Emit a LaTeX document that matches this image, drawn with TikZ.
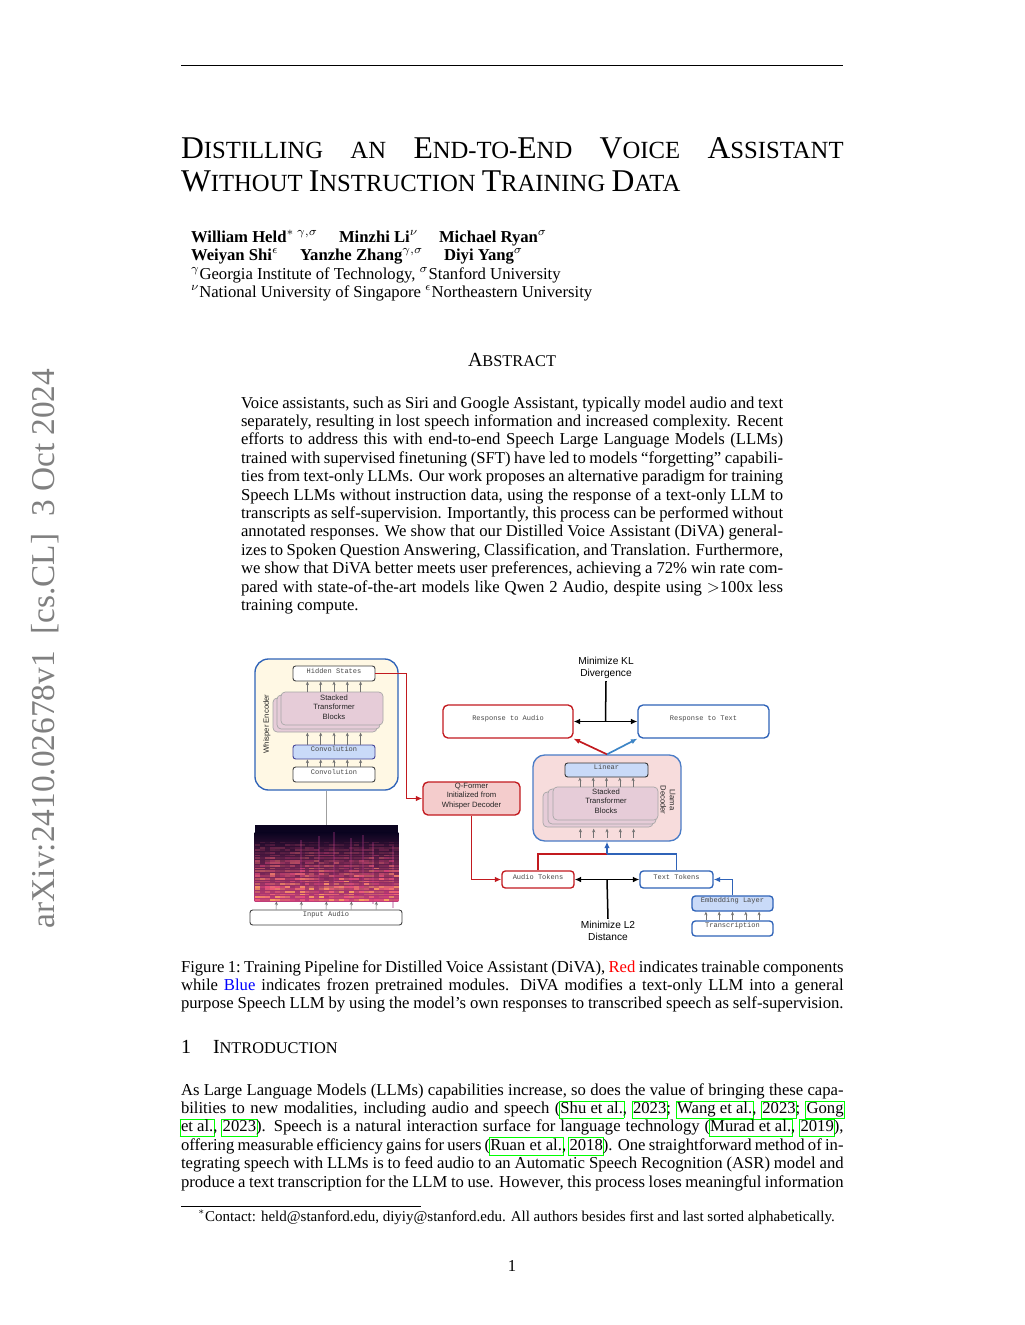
\documentclass[tikz,border=0pt]{standalone}
\usepackage{fontspec}
\setmainfont{Liberation Serif}
\newfontfamily\sansf{Liberation Sans}
\newfontfamily\monof{Liberation Mono}
\usetikzlibrary{arrows.meta,calc,fit}

\definecolor{citeg}{RGB}{0,255,0}
\definecolor{dred}{HTML}{C21A1F}
\definecolor{dblue}{HTML}{2F63B8}
\definecolor{llblue}{HTML}{4A7CC7}
\definecolor{lblue}{HTML}{C9DAF8}
\definecolor{arrblue}{HTML}{3D85C6}
\definecolor{encfill}{HTML}{FFF8E4}
\definecolor{qffill}{HTML}{F4CCCC}
\definecolor{llfill}{HTML}{F7DCDC}
\definecolor{stkfill}{HTML}{E6CCD8}
\definecolor{spTop}{HTML}{0B0420}
\definecolor{spMid}{HTML}{4A1684}
\definecolor{spBot}{HTML}{C03C7A}
\definecolor{spOr}{HTML}{FBA85E}
\definecolor{spPk}{HTML}{E4477E}
\definecolor{sidegray}{gray}{0.5}

\newsavebox\cbx
\newcommand\cb[1]{\sbox\cbx{#1}\leavevmode\rlap{\kern-0.9pt\raisebox{-2.6pt}{\color{citeg}\setlength\fboxsep{0pt}\setlength\fboxrule{0.55pt}\fbox{\vrule width0pt height 9.8pt\kern\dimexpr\wd\cbx+0.7pt\relax}}}\usebox\cbx}
\newcommand\jl[1]{\hbox to \hsize{#1}}
\newcommand\TB{\fontsize{19}{20}\selectfont}
\newcommand\TS{\fontsize{14.8}{20}\selectfont}

\begin{document}
\begin{tikzpicture}[x=0.597656bp,y=-0.597656bp,
  txt/.style={anchor=base west, inner sep=0pt, outer sep=0pt},
  body/.style={txt, font=\fontsize{10}{11}\selectfont},
  mono/.style={font=\monof\fontsize{4.2}{5}\selectfont, text=black!72},
  sans/.style={font=\sansf\fontsize{4.6}{5.6}\selectfont, align=center, text=black!85},
  biglab/.style={font=\sansf\fontsize{6.1}{7.6}\selectfont, align=center, inner sep=1pt},
  wbox/.style={draw=black!75, fill=white, line width=0.55bp, rounded corners=1.6bp, inner sep=0pt, mono},
  bbox/.style={wbox, fill=lblue, draw=black!55!blue!75},
  stk/.style={draw=black!35, fill=stkfill, line width=0.4bp, rounded corners=2.5bp, inner sep=0pt},
  encbox/.style={draw=dblue, fill=encfill, line width=0.8bp, rounded corners=8bp, inner sep=0pt},
  llbox/.style={draw=llblue, fill=llfill, line width=0.8bp, rounded corners=7bp, inner sep=0pt},
  qfbox/.style={draw=dred, fill=qffill, line width=0.8bp, rounded corners=3bp, inner sep=0pt, sans},
  rbox/.style={draw=dred, fill=white, line width=0.8bp, rounded corners=3bp, inner sep=0pt, mono},
  tbox/.style={rbox, draw=dblue},
  rbox2/.style={rbox, rounded corners=2bp},
  tbox2/.style={tbox, rounded corners=2bp},
  ebox/.style={tbox2, fill=lblue},
  tarr/.style={-{Stealth[length=2.2bp,width=1.9bp]}, line width=0.3bp, draw=black!55},
  rarr/.style={-{Latex[length=3.8bp,width=3.2bp]}, line width=1bp, draw=dred},
  rline/.style={line width=1bp, draw=dred},
  barr/.style={-{Latex[length=3.8bp,width=3.2bp]}, line width=1bp, draw=dblue},
  bline/.style={line width=1bp, draw=dblue},
  barr2/.style={-{Latex[length=3.8bp,width=3.2bp]}, line width=1bp, draw=arrblue},
  darr/.style={{Latex[length=3.8bp,width=3.4bp]}-{Latex[length=3.8bp,width=3.4bp]}, line width=0.9bp}
]
\useasboundingbox[fill=white] (0,0) rectangle (1024,1325);

% header rule
\coordinate (rl) at (181,65); \coordinate (rr) at (843,65);
\draw[line width=0.5bp] (rl) -- (rr);

% arXiv stamp
\node[txt, rotate=90, text=sidegray, font=\fontsize{20}{24}\selectfont] (stamp) at (54,928) {arXiv:2410.02678v1\ \ [cs.CL]\ \ 3 Oct 2024};

% title
\node[txt] (title1) at (181,158) {\hbox to 396bp{\TB D\TS ISTILLING\hfill AN\hfill \TB E\TS ND-TO-\TB E\TS ND\hfill \TB V\TS OICE\hfill \TB A\TS SSISTANT}};
\node[txt] (title2) at (181,191) {\TB W\TS ITHOUT \TB I\TS NSTRUCTION \TB T\TS RAINING \TB D\TS ATA};

% authors
\node[txt, font=\bfseries\fontsize{10}{11}\selectfont] (a1) at (191,242) {William Held$^{*\;\gamma,\sigma}$};
\node[txt, font=\bfseries\fontsize{10}{11}\selectfont] (a2) at (339,242) {Minzhi Li$^{\nu}$};
\node[txt, font=\bfseries\fontsize{10}{11}\selectfont] (a3) at (439,242) {Michael Ryan$^{\sigma}$};
\node[txt, font=\bfseries\fontsize{10}{11}\selectfont] (a4) at (191,260) {Weiyan Shi$^{\epsilon}$};
\node[txt, font=\bfseries\fontsize{10}{11}\selectfont] (a5) at (300,260) {Yanzhe Zhang$^{\gamma,\sigma}$};
\node[txt, font=\bfseries\fontsize{10}{11}\selectfont] (a6) at (444,260) {Diyi Yang$^{\sigma}$};
\node[body] (af1) at (191,279) {$^{\gamma}$Georgia Institute of Technology, $^{\sigma}$Stanford University};
\node[body] (af2) at (191,297) {$^{\nu}$National University of Singapore $^{\epsilon}$Northeastern University};

% abstract
\node[anchor=base, inner sep=0pt] (abshead) at (512,366) {\fontsize{12}{14}\selectfont A\fontsize{9.8}{14}\selectfont BSTRACT};
\node[body] (abs) at (241,408) {\vtop{\hsize=324bp \baselineskip=11bp
\jl{Voice assistants, such as Siri and Google Assistant, typically model audio and text}
\jl{separately, resulting in lost speech information and increased complexity. Recent}
\jl{efforts to address this with end-to-end Speech Large Language Models (LLMs)}
\jl{trained with supervised finetuning (SFT) have led to models ``forgetting'' capabili-}
\jl{ties from text-only LLMs. Our work proposes an alternative paradigm for training}
\jl{Speech LLMs without instruction data, using the response of a text-only LLM to}
\jl{transcripts as self-supervision. Importantly, this process can be performed without}
\jl{annotated responses. We show that our Distilled Voice Assistant (DiVA) general-}
\jl{izes to Spoken Question Answering, Classification, and Translation. Furthermore,}
\jl{we show that DiVA better meets user preferences, achieving a 72\% win rate com-}
\jl{pared with state-of-the-art models like Qwen 2 Audio, despite using $>$100x less}
\hbox{training compute.}}};

% ---------------- figure ----------------
% whisper encoder
\node[encbox, fit={(255,659)(398,790)}] (enc) {};
\node[wbox, fit={(293,666)(375,681)}] (hs) {Hidden States};
\node[stk, fit={(273,698)(377,732)}] (es3) {};
\node[stk, fit={(277,695)(380,729)}] (es2) {};
\node[stk, fit={(281,692)(383,725)}] (es1) {};
\node[sans] (est) at (334,707) {Stacked\\Transformer\\Blocks};
\node[bbox, fit={(293,745)(375,759)}] (cv1) {Convolution};
\node[wbox, fit={(293,767)(375,782)}] (cv2) {Convolution};
\node[sans, rotate=90] (encl) at (267,724) {Whisper Encoder};
\foreach \d in {-26.6,-13.3,0,13.3,26.6} {
  \draw[tarr] ($(hs.south)+(\d,11)$) -- ($(hs.south)+(\d,0)$);
  \draw[tarr] ($(cv1.north)+(\d,0)$) -- ($(cv1.north)+(\d,-12)$);
  \draw[tarr] ($(cv2.north)+(\d,0)$) -- ($(cv1.south)+(\d,0)$);
}

% spectrogram
\node[inner sep=0pt, fit={(255,825)(398,901)}] (spec) {};
\fill[spTop] (spec.north west) rectangle (spec.south east);
\shade[top color=spTop, middle color=spMid, bottom color=spBot] ($(spec.north west)+(0,8)$) rectangle (spec.south east);
\foreach \xx/\tp in {300/840,318/836,333/832,350/838,362/835,372/842,392/846} {
  \fill[spPk!60!spMid, opacity=0.35] (\xx,\tp) rectangle ++(2,62);
}
\pgfmathsetseed{7}
\foreach \r in {0,...,22} {
  \foreach \c in {0,...,28} {
    \pgfmathsetmacro\op{min(1,1.5*rnd*(1-\r/25))}
    \pgfmathtruncatemacro\pc{100*rnd*(1-\r/30)}
    \fill[spOr!\pc!spPk, opacity=\op] (255+\c*4.95, 900.5-\r*2.6) rectangle ++(4.95,-1.7);
  }
}
\draw[gray!75, line width=0.6bp] (enc.south) -- (spec.north);
\node[wbox, fit={(250,910)(402,925)}] (ia) {Input Audio};
\foreach \d in {-50,-25,0,25,50} {
  \draw[tarr] ($(ia.north)+(\d,0)$) -- ($(spec.south)+(\d,0)$);
}

% Q-former
\node[qfbox, fit={(423,782)(520,815)}] (qf) {Q-Former\\Initialized from\\Whisper Decoder};
\coordinate (c1) at ($(hs.east)+(31,0)$);
\coordinate (c2) at (c1 |- qf.west);
\draw[rline, line join=miter] (hs.east) -- (c1) -- (c2);
\draw[rarr] (c2) -- (qf.west);

% llama decoder
\node[llbox, fit={(533,755)(681,841)}] (ll) {};
\node[bbox, fit={(565,763)(648,777)}, draw=black!80] (lin) {Linear};
\node[stk, fit={(543,792)(653,827)}] (ls3) {};
\node[stk, fit={(548,789)(656,824)}] (ls2) {};
\node[stk, fit={(553,787)(658,820)}] (ls1) {};
\node[sans] (lst) at (606,801) {Stacked\\Transformer\\Blocks};
\node[sans, rotate=-90] (lll) at (668,800) {Llama\\Decoder};
\foreach \d in {-26.6,-13.3,0,13.3,26.6} {
  \draw[tarr] ($(lin.south)+(\d,10)$) -- ($(lin.south)+(\d,0)$);
  \draw[tarr] ($(ll.south)+(\d,-4)$) -- ($(ll.south)+(\d,-13)$);
}

% responses
\node[rbox, fit={(443,705)(573,738)}] (ra) {Response to Audio};
\node[tbox, fit={(638,705)(769,738)}] (rt) {Response to Text};
\draw[darr] (ra.east) -- (rt.west);
\coordinate (klm) at ($(ra.east)!0.5!(rt.west)$);
\node[biglab] (kl) at (606,668) {Minimize KL\\Divergence};
\draw[line width=0.9bp] (klm) -- (kl.south);
\draw[rarr] (ll.north) -- (ra.south east);
\draw[barr2] (ll.north) -- (rt.south west);

% tokens
\node[rbox2, fit={(502,871)(574,888)}] (at) {Audio Tokens};
\node[tbox2, fit={(640,871)(713,888)}] (tt) {Text Tokens};
\coordinate (c3) at (qf.south |- at.west);
\draw[rline] (qf.south) -- (c3);
\draw[rarr] (c3) -- (at.west);
\draw[darr] (at.east) -- (tt.west);
\coordinate (l2m) at ($(at.east)!0.5!(tt.west)$);
\node[biglab] (l2) at (608,931) {Minimize L2\\Distance};
\draw[line width=0.9bp] (l2m) -- (l2.north);
\node[ebox, fit={(692,896)(773,911)}] (emb) {Embedding Layer};
\node[tbox2, fit={(692,921)(773,936)}] (tr) {Transcription};
\foreach \d in {-26.6,-13.3,0,13.3,26.6} {
  \draw[tarr] ($(tr.north)+(\d,0)$) -- ($(emb.south)+(\d,0)$);
}
\coordinate (c4) at (emb.north |- tt.east);
\draw[bline] (emb.north) -- (c4);
\draw[barr] (c4) -- (tt.east);
\coordinate (j) at (607,854);
\draw[rline] (at.north) |- (j);
\draw[bline] (tt.north) |- (j);
\draw[barr] (j) -- (ll.south);

% caption
\node[body] (cap) at (181,972) {\vtop{\hsize=396bp \baselineskip=11bp
\jl{Figure 1:\ Training Pipeline for Distilled Voice Assistant (DiVA), \textcolor{red}{Red} indicates trainable components}
\jl{while \textcolor{blue}{Blue} indicates frozen pretrained modules.  DiVA modifies a text-only LLM into a general}
\jl{purpose Speech LLM by using the model's own responses to transcribed speech as self-supervision.}}};

% section heading
\node[txt] (secn) at (181,1053) {\fontsize{12}{14}\selectfont 1};
\node[txt] (sect) at (213,1053) {\fontsize{12}{14}\selectfont I\fontsize{9.8}{14}\selectfont NTRODUCTION};

% introduction
\node[body] (intro) at (181,1095) {\vtop{\hsize=396bp \baselineskip=11bp
\jl{As Large Language Models (LLMs) capabilities increase, so does the value of bringing these capa-}
\jl{bilities to new modalities, including audio and speech (\cb{Shu et al.}, \cb{2023}; \cb{Wang et al.}, \cb{2023}; \cb{Gong}}
\jl{\cb{et al.}, \cb{2023}). Speech is a natural interaction surface for language technology (\cb{Murad et al.}, \cb{2019}),}
\jl{offering measurable efficiency gains for users (\cb{Ruan et al.}, \cb{2018}). One straightforward method of in-}
\jl{tegrating speech with LLMs is to feed audio to an Automatic Speech Recognition (ASR) model and}
\jl{produce a text transcription for the LLM to use. However, this process loses meaningful information}}};

% footnote
\coordinate (fl) at (181,1206); \coordinate (fr) at (421,1206);
\draw[line width=0.4bp] (fl) -- (fr);
\node[txt, font=\fontsize{9}{11}\selectfont] (fn) at (198,1221) {$^{*}$Contact: held@stanford.edu, diyiy@stanford.edu. All authors besides first and last sorted alphabetically.};

% page number
\node[anchor=base, inner sep=0pt, font=\fontsize{10}{11}\selectfont] (pg) at (512,1271) {1};
\end{tikzpicture}
\end{document}
